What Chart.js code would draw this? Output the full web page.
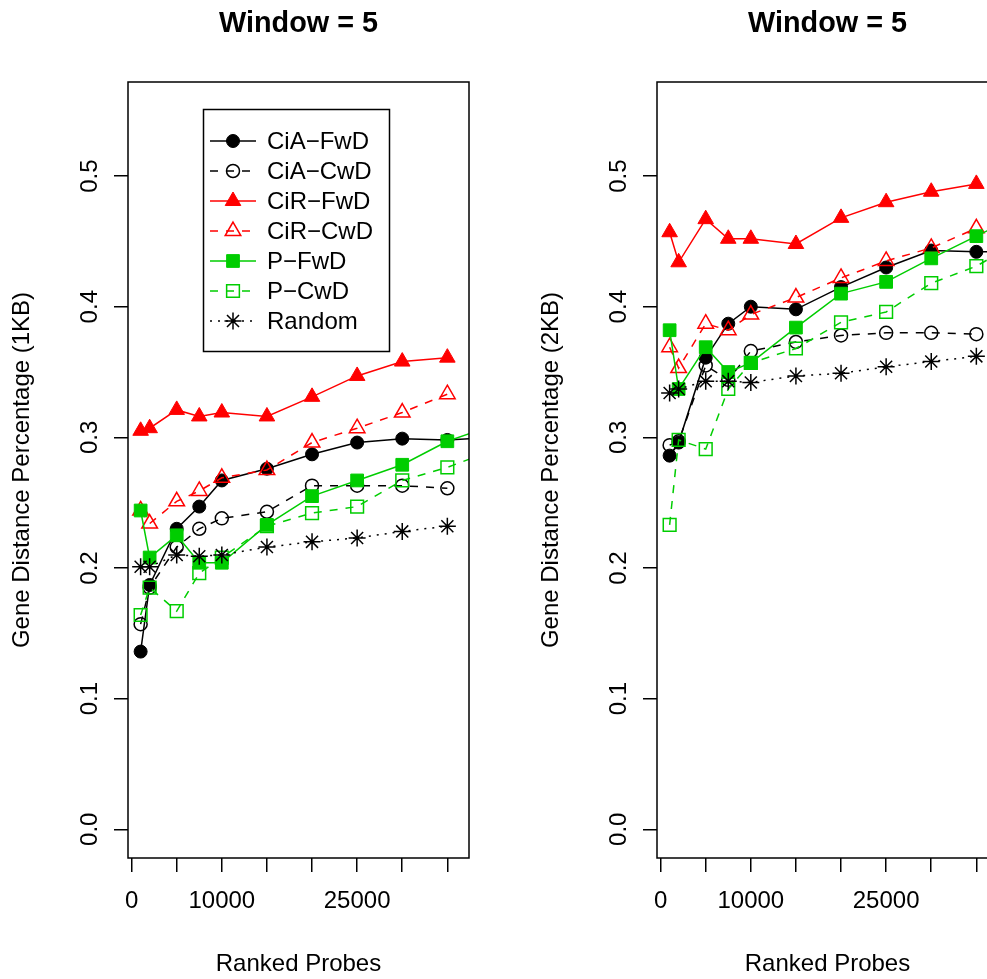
<!DOCTYPE html>
<html>
<head>
<meta charset="utf-8">
<script src="https://cdn.jsdelivr.net/npm/chart.js@4/dist/chart.umd.min.js"></script>
<style>
  html, body { margin: 0; padding: 0; background: #fff; overflow: hidden; }
  #wrap { position: relative; width: 987px; height: 979px; overflow: hidden; }
  canvas { position: absolute; top: 0; }
  #chart1 { left: 0; }
  #chart2 { left: 529px; }
</style>
</head>
<body>
<div id="wrap">
  <canvas id="chart1" width="529" height="979"></canvas>
  <canvas id="chart2" width="529" height="979"></canvas>
</div>
<script>
// x positions (number of ranked probes)
const probes = [1000, 2000, 5000, 7500, 10000, 15000, 20000, 25000, 30000, 35000, 40000];
const xTicks = [0, 5000, 10000, 15000, 20000, 25000, 30000, 35000];
const xTickLabels = [0, 10000, 25000];
const yTicks = [0, 0.1, 0.2, 0.3, 0.4, 0.5];
const seriesNames = ['CiA\u2212FwD', 'CiA\u2212CwD', 'CiR\u2212FwD', 'CiR\u2212CwD', 'P\u2212FwD', 'P\u2212CwD', 'Random'];

// Window = 5, 1KB
const ciaFwd1kb = [0.136, 0.187, 0.230, 0.247, 0.267, 0.276, 0.287, 0.296, 0.299, 0.298, 0.300];
const ciaCwd1kb = [0.157, 0.185, 0.216, 0.230, 0.238, 0.243, 0.263, 0.263, 0.263, 0.261];
const cirFwd1kb = [0.305, 0.307, 0.321, 0.316, 0.319, 0.316, 0.331, 0.347, 0.358, 0.361];
const cirCwd1kb = [0.244, 0.234, 0.251, 0.259, 0.269, 0.275, 0.296, 0.307, 0.319, 0.333];
const pFwd1kb = [0.244, 0.208, 0.225, 0.204, 0.204, 0.233, 0.255, 0.267, 0.279, 0.297, 0.309];
const pCwd1kb = [0.164, 0.185, 0.167, 0.196, 0.208, 0.232, 0.242, 0.247, 0.267, 0.277, 0.290];
const random1kb = [0.201, 0.201, 0.210, 0.209, 0.210, 0.216, 0.220, 0.223, 0.228, 0.232];

// Window = 5, 2KB
const ciaFwd2kb = [0.286, 0.296, 0.361, 0.387, 0.400, 0.398, 0.415, 0.430, 0.443, 0.442, 0.442];
const ciaCwd2kb = [0.294, 0.297, 0.355, 0.344, 0.366, 0.373, 0.378, 0.380, 0.380, 0.379];
const cirFwd2kb = [0.457, 0.434, 0.467, 0.452, 0.452, 0.448, 0.468, 0.480, 0.488, 0.494];
const cirCwd2kb = [0.369, 0.353, 0.387, 0.382, 0.394, 0.407, 0.422, 0.435, 0.445, 0.460];
const pFwd2kb = [0.382, 0.337, 0.369, 0.350, 0.357, 0.384, 0.410, 0.419, 0.437, 0.454, 0.471];
const pCwd2kb = [0.233, 0.298, 0.291, 0.337, 0.357, 0.368, 0.388, 0.396, 0.418, 0.431, 0.451];
const random2kb = [0.334, 0.337, 0.343, 0.343, 0.342, 0.347, 0.349, 0.354, 0.358, 0.362];

const FONT = "'Liberation Sans', Arial, Helvetica, sans-serif";
const GREEN = '#00cd00';

const seriesStyles = [
    { color: '#000000', point: 'circle', filled: true, dash: [], radius: 6.5 },
    { color: '#000000', point: 'circle', filled: false, dash: [8, 8], radius: 6.5 },
    { color: '#ff0000', point: 'triangle', filled: true, dash: [], radius: 9 },
    { color: '#ff0000', point: 'triangle', filled: false, dash: [8, 8], radius: 9 },
    { color: GREEN, point: 'rect', filled: true, dash: [], radius: 9 },
    { color: GREEN, point: 'rect', filled: false, dash: [8, 8], radius: 9 },
    { color: '#000000', point: 'star', filled: false, dash: [2, 6], radius: 8.5 },
];

function buildDatasets(valueLists) {
    return valueLists.map((vals, i) => {
        const s = seriesStyles[i];
        return {
            label: seriesNames[i],
            data: vals.map((v, k) => ({ x: probes[k], y: v })),
            borderColor: s.color,
            borderWidth: 1.5,
            borderDash: s.dash,
            pointStyle: s.point,
            pointRadius: s.radius,
            pointBackgroundColor: s.filled ? s.color : 'rgba(0,0,0,0)',
            pointBorderColor: s.color,
            pointBorderWidth: s.filled ? 1 : 1.5,
            tension: 0,
            fill: false,
            clip: 0,
            order: valueLists.length - i,
        };
    });
}

// box, panel title and R-style legend
const rFrame = {
    id: 'rFrame',
    afterDraw(chart, args, opts) {
        const { ctx, chartArea: a } = chart;
        ctx.save();
        ctx.setLineDash([]);
        ctx.strokeStyle = '#000';
        ctx.lineWidth = 1.5;
        ctx.strokeRect(a.left, a.top, a.right - a.left, a.bottom - a.top);

        ctx.fillStyle = '#000';
        ctx.font = `bold 28.8px ${FONT}`;
        ctx.textAlign = 'center';
        ctx.textBaseline = 'middle';
        ctx.fillText(opts.text, (a.left + a.right) / 2, 24);

        if (opts.legend) {
            const x0 = a.left + 75.5, y0 = a.top + 27.5;
            ctx.fillStyle = '#fff';
            ctx.fillRect(x0, y0, 186, 242);
            ctx.strokeRect(x0, y0, 186, 242);
            chart.data.datasets.forEach((ds, i) => {
                const y = y0 + 31.5 + i * 30;
                ctx.save();
                ctx.strokeStyle = ds.borderColor;
                ctx.lineWidth = ds.borderWidth;
                ctx.setLineDash(ds.borderDash);
                ctx.beginPath();
                ctx.moveTo(x0 + 6.5, y);
                ctx.lineTo(x0 + 52.5, y);
                ctx.stroke();
                ctx.setLineDash([]);
                ctx.fillStyle = ds.pointBackgroundColor;
                ctx.strokeStyle = ds.pointBorderColor;
                ctx.lineWidth = ds.pointBorderWidth;
                Chart.helpers.drawPoint(ctx, {
                    pointStyle: ds.pointStyle,
                    radius: ds.pointRadius,
                    rotation: 0,
                    borderWidth: ds.pointBorderWidth,
                }, x0 + 29.5, y);
                ctx.restore();
                ctx.fillStyle = '#000';
                ctx.font = `24px ${FONT}`;
                ctx.textAlign = 'left';
                ctx.textBaseline = 'middle';
                ctx.fillText(ds.label, x0 + 63.5, y + 1);
            });
        }
        ctx.restore();
    },
};

function makeChart(canvasId, valueLists, yTitle, withLegend) {
    const tickGrid = {
        display: true,
        drawOnChartArea: false,
        drawTicks: true,
        tickLength: 14,
        color: '#000',
        lineWidth: 1.5,
    };
    return new Chart(document.getElementById(canvasId), {
        type: 'line',
        data: { datasets: buildDatasets(valueLists) },
        options: {
            responsive: false,
            animation: false,
            devicePixelRatio: 1,
            layout: { padding: { top: 82, right: 60, left: 0, bottom: 0 } },
            plugins: {
                legend: { display: false },
                tooltip: { enabled: false },
                title: { display: false },
                rFrame: { text: 'Window = 5', legend: withLegend },
            },
            scales: {
                x: {
                    type: 'linear',
                    bounds: 'data',
                    min: -400,
                    max: 37400,
                    afterBuildTicks: (s) => { s.ticks = xTicks.map(v => ({ value: v })); },
                    afterFit: (s) => { s.height = 121; },
                    ticks: {
                        autoSkip: false,
                        minRotation: 0,
                        maxRotation: 0,
                        padding: 15,
                        color: '#000',
                        font: { family: FONT, size: 24 },
                        callback: (v) => xTickLabels.includes(v) ? String(v) : '',
                    },
                    grid: tickGrid,
                    border: { display: false },
                    title: {
                        display: true,
                        text: 'Ranked Probes',
                        color: '#000',
                        font: { family: FONT, size: 24 },
                        padding: { top: 0, bottom: 0 },
                    },
                },
                y: {
                    type: 'linear',
                    bounds: 'data',
                    min: -0.022,
                    max: 0.572,
                    afterBuildTicks: (s) => { s.ticks = yTicks.map(v => ({ value: v })); },
                    afterFit: (s) => { s.width = 128; },
                    ticks: {
                        autoSkip: false,
                        minRotation: 90,
                        maxRotation: 90,
                        crossAlign: 'center',
                        padding: 7,
                        color: '#000',
                        font: { family: FONT, size: 24 },
                        callback: (v) => v.toFixed(1),
                    },
                    grid: tickGrid,
                    border: { display: false },
                    title: {
                        display: true,
                        text: yTitle,
                        color: '#000',
                        font: { family: FONT, size: 24 },
                        padding: { top: 8, bottom: 0 },
                    },
                },
            },
        },
        plugins: [rFrame],
    });
}

makeChart('chart1',
    [ciaFwd1kb, ciaCwd1kb, cirFwd1kb, cirCwd1kb, pFwd1kb, pCwd1kb, random1kb],
    'Gene Distance Percentage (1KB)', true);
makeChart('chart2',
    [ciaFwd2kb, ciaCwd2kb, cirFwd2kb, cirCwd2kb, pFwd2kb, pCwd2kb, random2kb],
    'Gene Distance Percentage (2KB)', false);
</script>
</body>
</html>
